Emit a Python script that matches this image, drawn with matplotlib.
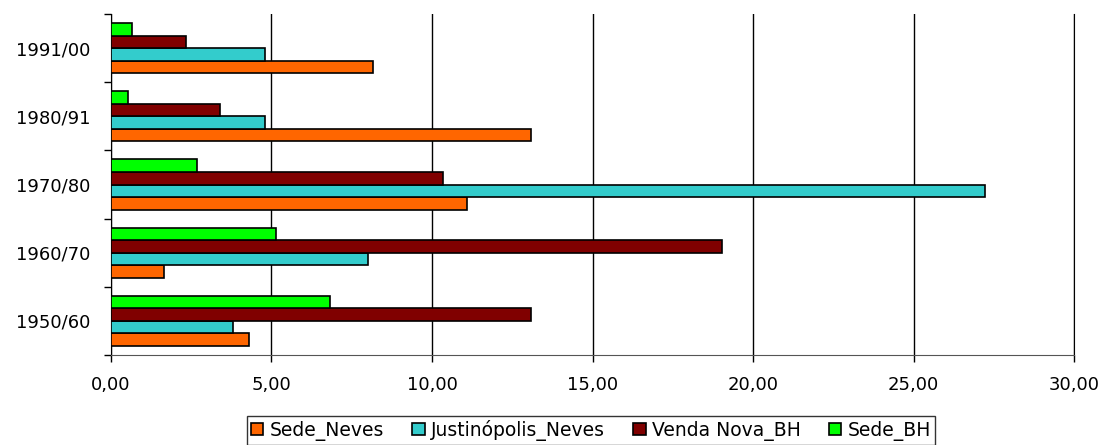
import matplotlib.pyplot as plt
import numpy as np
from matplotlib.ticker import FuncFormatter

periods = ['1950/60', '1960/70', '1970/80', '1980/91', '1991/00']
sede_neves = [4.31, 1.66, 11.08, 13.08, 8.17]
justinopolis_neves = [3.79, 8.00, 27.23, 4.80, 4.80]
venda_nova_bh = [13.08, 19.03, 10.35, 3.41, 2.35]
sede_bh = [6.82, 5.14, 2.68, 0.54, 0.65]

series = [
    ('Sede_Neves', sede_neves, '#FF6600'),
    ('Justinópolis_Neves', justinopolis_neves, '#33CCCC'),
    ('Venda Nova_BH', venda_nova_bh, '#800000'),
    ('Sede_BH', sede_bh, '#00FF00'),
]

plt.rcParams['font.family'] = ['DejaVu Sans']

fig = plt.figure(figsize=(11.01, 4.45), dpi=100)
ax = fig.add_axes([0.1008, 0.2022, 0.8747, 0.7663])

y = np.arange(len(periods))
h = 0.184
for i, (name, vals, col) in enumerate(series):
    ax.barh(y + (i - 1.5) * h, vals, height=h, color=col, edgecolor='black',
            linewidth=1.2, label=name, zorder=3)

ax.set_xlim(0, 30)
ax.set_ylim(-0.5, len(periods) - 0.5)
ax.set_xticks(np.arange(0, 31, 5))
ax.xaxis.set_major_formatter(FuncFormatter(lambda v, p: f'{v:.2f}'.replace('.', ',')))
ax.grid(axis='x', color='black', linewidth=1, zorder=0)

# category boundaries as ticks, labels at centers
ax.set_yticks(np.arange(-0.5, len(periods), 1))
ax.set_yticklabels([])
ax.set_yticks(y, minor=True)
ax.set_yticklabels(periods, minor=True)
ax.tick_params(axis='y', which='minor', length=0, pad=15, labelsize=13)
ax.tick_params(axis='y', which='major', length=5, width=1, direction='out')
ax.tick_params(axis='x', length=5, width=1, labelsize=13, pad=10)

ax.spines['top'].set_visible(False)
ax.spines['right'].set_color('black')
ax.spines['left'].set_color('black')
ax.spines['bottom'].set_color('#555555')

leg = fig.legend(loc='center', ncol=4,
                 fontsize=13.5, frameon=True, fancybox=False, edgecolor='black',
                 handlelength=0.65, handleheight=0.65, handletextpad=0.35,
                 columnspacing=1.5, borderpad=0.2, borderaxespad=0)
leg.set_bbox_to_anchor((0.537, 0.033), transform=fig.transFigure)
leg.get_frame().set_linewidth(1)

fig.savefig('out.png', dpi=100)
